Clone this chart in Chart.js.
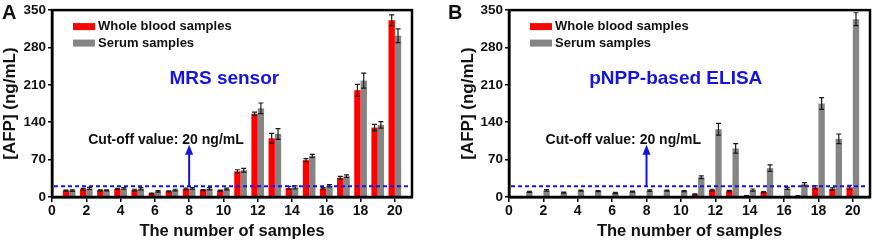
<!DOCTYPE html>
<html>
<head>
<meta charset="utf-8">
<script src="https://cdn.jsdelivr.net/npm/chart.js@4.4.1/dist/chart.umd.min.js"></script>
<style>
  body { margin: 0; background: #fff; }
  .panel { position: absolute; top: 0; width: 436px; height: 243px; }
</style>
</head>
<body>
<div class="panel" style="left:0"><canvas id="chartA" width="436" height="243"></canvas></div>
<div class="panel" style="left:436px"><canvas id="chartB" width="436" height="243"></canvas></div>
<script>
// sample numbers 1..20
const samples = [1, 2, 3, 4, 5, 6, 7, 8, 9, 10, 11, 12, 13, 14, 15, 16, 17, 18, 19, 20];
const xTicks = [0, 2, 4, 6, 8, 10, 12, 14, 16, 18, 20];
const yTicks = [0, 70, 140, 210, 280, 350];
const cutoff = 20;

// A: MRS sensor
const bloodA = [12, 14.5, 12.5, 15, 13, 6.5, 10.5, 15, 13, 12, 48, 156, 110, 17, 69, 16, 36, 200, 130, 331];
const serumA = [12, 16, 12.5, 16, 15.5, 10.5, 13, 16, 15.5, 15, 50, 166, 118, 18, 77, 21, 39, 218, 135, 302];
const bloodErrA = [1, 1.5, 1, 1, 1.5, 1, 1, 1.5, 1, 1, 3, 3, 9, 3, 3, 1.5, 2.5, 11, 6, 10];
const serumErrA = [1.5, 2, 1, 1.5, 2, 1.5, 1.5, 1.5, 2, 1.5, 3.5, 10, 10, 3, 3, 2, 2.5, 14, 6, 13];

// B: pNPP-based ELISA
const bloodB = [0.5, 1, 0.5, 1, 0.5, 0.5, 1.5, 0.5, 0.5, 1, 5, 13, 11, 2, 9, 1, 2, 18, 15, 18];
const serumB = [9.5, 12.5, 8, 12, 11, 7.5, 10, 12, 12, 11, 37, 127, 91, 13, 54, 16, 24, 175, 109, 333];
const bloodErrB = [0, 0, 0, 0, 0, 0, 0, 0, 0, 0, 1, 1.5, 1.5, 0.5, 1, 0, 0.5, 3, 2, 4];
const serumErrB = [1, 1.5, 1, 1, 1, 1, 1, 1.5, 1, 1, 2.5, 11, 9, 2, 6, 2, 3, 11, 9, 12];

const FONT = '"Liberation Sans", Arial, sans-serif';
const BLUE = '#1414e6';
Chart.defaults.font.family = FONT;
Chart.defaults.font.weight = 'bold';
Chart.defaults.color = '#111';

const errorBars = {
  id: 'errorBars',
  afterDatasetsDraw(chart) {
    const ctx = chart.ctx, y = chart.scales.y;
    ctx.save();
    ctx.strokeStyle = '#1a1a1a';
    ctx.lineWidth = 1.2;
    chart.data.datasets.forEach((ds, i) => {
      chart.getDatasetMeta(i).data.forEach((bar, j) => {
        const e = ds.errors[j];
        if (!e) return;
        const v = ds.data[j].y;
        const top = y.getPixelForValue(v + e), bot = y.getPixelForValue(v - e);
        ctx.beginPath();
        ctx.moveTo(bar.x, top); ctx.lineTo(bar.x, bot);
        ctx.moveTo(bar.x - 2.5, top); ctx.lineTo(bar.x + 2.5, top);
        ctx.moveTo(bar.x - 2.5, bot); ctx.lineTo(bar.x + 2.5, bot);
        ctx.stroke();
      });
    });
    ctx.restore();
  }
};

const decorations = {
  id: 'decorations',
  afterDatasetsDraw(chart, args, o) {
    const ctx = chart.ctx, a = chart.chartArea, x = chart.scales.x, y = chart.scales.y;
    ctx.save();
    // frame
    ctx.strokeStyle = '#000';
    ctx.lineWidth = 2.5;
    ctx.strokeRect(a.left, a.top, a.right - a.left, a.bottom - a.top);
    // cut-off line
    const yc = y.getPixelForValue(cutoff);
    ctx.strokeStyle = BLUE;
    ctx.lineWidth = 2;
    ctx.setLineDash([4, 3]);
    ctx.beginPath(); ctx.moveTo(a.left + 2, yc); ctx.lineTo(a.right - 2, yc); ctx.stroke();
    ctx.setLineDash([]);
    // arrow
    const xa = x.getPixelForValue(8), ya = y.getPixelForValue(94);
    ctx.beginPath(); ctx.moveTo(xa, yc); ctx.lineTo(xa, ya + 6); ctx.stroke();
    ctx.fillStyle = BLUE;
    ctx.beginPath(); ctx.moveTo(xa, ya - 2); ctx.lineTo(xa - 4, ya + 8); ctx.lineTo(xa + 4, ya + 8); ctx.closePath(); ctx.fill();
    // texts
    ctx.textAlign = 'center'; ctx.textBaseline = 'middle';
    ctx.fillStyle = '#111';
    ctx.font = 'bold 14px ' + FONT;
    ctx.fillText('Cut-off value: 20 ng/mL', x.getPixelForValue(6.65), y.getPixelForValue(106));
    ctx.fillStyle = BLUE;
    ctx.font = 'bold 19px ' + FONT;
    ctx.fillText(o.method, x.getPixelForValue(o.methodX), y.getPixelForValue(221));
    // legend
    ctx.textAlign = 'left';
    ctx.font = 'bold 13px ' + FONT;
    chart.data.datasets.forEach((ds, i) => {
      const ly = a.top + 16 + i * 16.5;
      ctx.fillStyle = ds.backgroundColor;
      ctx.fillRect(a.left + 21, ly - 3, 22, 7);
      ctx.fillStyle = '#111';
      ctx.fillText(ds.label, a.left + 46, ly + 0.5);
    });
    // panel letter
    ctx.font = 'bold 20px ' + FONT;
    ctx.textBaseline = 'top';
    ctx.fillText(o.letter, o.letterX, 3);
    ctx.restore();
  }
};

function makePanel(id, blood, serum, bloodErr, serumErr, cfg) {
  return new Chart(document.getElementById(id), {
    type: 'bar',
    data: {
      datasets: [
        { label: 'Whole blood samples', data: samples.map((s, i) => ({ x: s, y: blood[i] })), errors: bloodErr, backgroundColor: '#ff0000' },
        { label: 'Serum samples', data: samples.map((s, i) => ({ x: s, y: serum[i] })), errors: serumErr, backgroundColor: '#858585' }
      ]
    },
    options: {
      responsive: false,
      animation: false,
      layout: { padding: { left: cfg.padLeft, right: cfg.padRight, top: 10, bottom: 0 } },
      datasets: { bar: { categoryPercentage: 0.74, barPercentage: 1 } },
      scales: {
        x: {
          type: 'linear', min: 0, max: 21, offset: false,
          afterBuildTicks: s => { s.ticks = xTicks.map(v => ({ value: v })); },
          afterFit: s => { s.height = 46; },
          grid: { display: true, offset: false, drawOnChartArea: false, drawTicks: true, tickLength: 5, color: '#000', lineWidth: 1.5 },
          border: { display: true, color: '#000', width: 2.5 },
          ticks: { font: { size: 14, weight: 'bold' }, padding: 1, maxRotation: 0, autoSkip: false, color: '#111' },
          title: { display: true, text: 'The number of samples', font: { size: 16.5, weight: 'bold' }, padding: { top: 0, bottom: 2 }, color: '#111' }
        },
        y: {
          min: 0, max: 350,
          afterBuildTicks: s => { s.ticks = yTicks.map(v => ({ value: v })); },
          afterFit: s => { s.width = cfg.yWidth; },
          grid: { display: true, drawOnChartArea: false, drawTicks: true, tickLength: 4, color: '#000', lineWidth: 1.5 },
          border: { display: true, color: '#000', width: 2.5 },
          ticks: { font: { size: 13.5, weight: 'bold' }, padding: 2, color: '#111' },
          title: { display: true, text: '[AFP] (ng/mL)', font: { size: 17, weight: 'bold' }, padding: { top: 0, bottom: 2 }, color: '#111' }
        }
      },
      plugins: {
        legend: { display: false },
        tooltip: { enabled: false },
        decorations: cfg.deco
      }
    },
    plugins: [errorBars, decorations]
  });
}

makePanel('chartA', bloodA, serumA, bloodErrA, serumErrA, {
  padLeft: 0, padRight: 24, yWidth: 52,
  deco: { letter: 'A', letterX: 2, method: 'MRS sensor', methodX: 10.05 }
});
makePanel('chartB', bloodB, serumB, bloodErrB, serumErrB, {
  padLeft: 22, padRight: 2, yWidth: 51,
  deco: { letter: 'B', letterX: 12, method: 'pNPP-based ELISA', methodX: 9.7 }
});
</script>
</body>
</html>
